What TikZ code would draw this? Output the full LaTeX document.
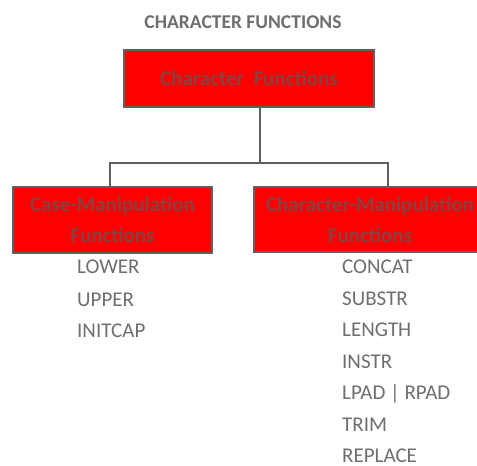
\documentclass[tikz,border=0pt]{standalone}
\usepackage{fontspec}
\setmainfont{Carlito}
\definecolor{txtgray}{RGB}{110,110,110}
\definecolor{linegray}{RGB}{96,96,96}
\definecolor{boxred}{RGB}{255,0,0}
\definecolor{boxtxt}{RGB}{135,65,65}
\tikzset{
  redbox/.style={draw=linegray, line width=2pt, fill=boxred, text=boxtxt, align=center,
    font=\bfseries\fontsize{21}{31}\selectfont, inner sep=0pt},
  item/.style={anchor=west, text=txtgray, font=\fontsize{21}{24}\selectfont, inner sep=0pt},
  conn/.style={draw=linegray, line width=2.5pt}
}
\begin{document}
\begin{tikzpicture}[x=1pt,y=-1pt]
\useasboundingbox (0,0) rectangle (477,466);
\clip (0,0) rectangle (477,466);
\node[text=txtgray, font=\bfseries\fontsize{19.5}{24}\selectfont, inner sep=0pt] (title) at (243,22) {CHARACTER FUNCTIONS};
\node[redbox, minimum width=250pt, minimum height=57pt] (top) at (249,78.5) {Character\ \ Functions};
\node[redbox, minimum width=199pt, minimum height=66pt] (left) at (112.5,220) {Case-Manipulation\\Functions};
\node[redbox, minimum width=232pt, minimum height=65pt] (right) at (370,219.5) {Character-Manipulation\\Functions};
\coordinate (hm) at (260,163);
\coordinate (hl) at (110,163);
\coordinate (hr) at (388,163);
\draw[conn] (hm |- top.south) -- (hm);
\draw[conn] (hl |- left.north) -- (hl) -- (hr) -- (hr |- right.north);
\node[item] (lower) at (77,267) {LOWER};
\node[item] (upper) at (77,300) {UPPER};
\node[item] (initcap) at (77,331) {INITCAP};
\node[item] (concat) at (342,267) {CONCAT};
\node[item] (substr) at (342,299) {SUBSTR};
\node[item] (length) at (342,330) {LENGTH};
\node[item] (instr) at (342,362) {INSTR};
\node[item] (lpad) at (342,394) {LPAD | RPAD};
\node[item] (trim) at (342,425) {TRIM};
\node[item] (replace) at (342,456) {REPLACE};
\end{tikzpicture}
\end{document}
